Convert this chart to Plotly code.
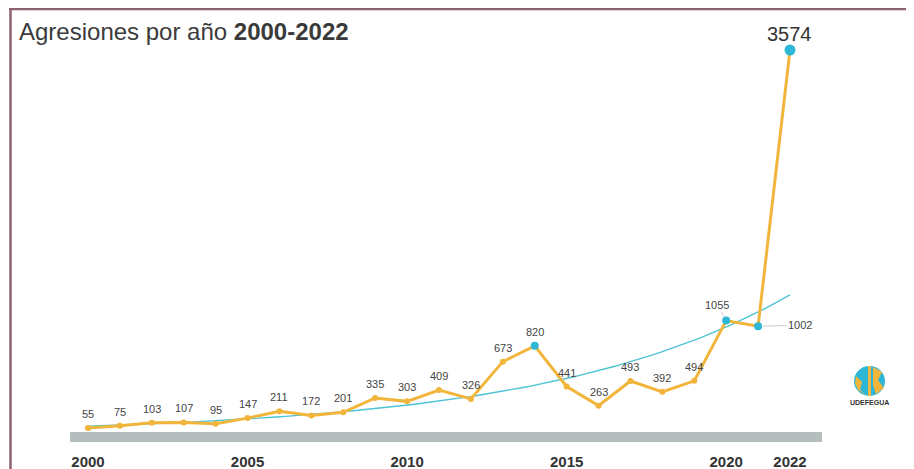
import numpy as np
import plotly.graph_objects as go

years = list(range(2000, 2023))
values = [55, 75, 103, 107, 95, 147, 211, 172, 201, 335, 303, 409, 326,
          673, 820, 441, 263, 493, 392, 494, 1055, 1002, 3574]
highlight_years = [2014, 2020, 2021]
tick_years = [2000, 2005, 2010, 2015, 2020, 2022]
title_a = "Agresiones por año"
title_b = "2000-2022"

YELLOW = "#F2B53C"
CYAN = "#2DB6D6"
TREND = "#4CC3D3"

# exponential trend line (least squares fit on log values)
b, a = np.polyfit(np.array(years) - 2000, np.log(values), 1)
tx = np.linspace(2000, 2022, 120)
ty = np.exp(a + b * (tx - 2000))

fig = go.Figure()
fig.add_trace(go.Scatter(x=tx, y=ty, mode="lines",
                         line=dict(color=TREND, width=1.4), hoverinfo="skip"))
fig.add_trace(go.Scatter(x=years, y=values, mode="lines+markers",
                         line=dict(color=YELLOW, width=3),
                         marker=dict(color=YELLOW, size=6)))
hv = [values[years.index(y)] for y in highlight_years]
fig.add_trace(go.Scatter(x=highlight_years, y=hv, mode="markers",
                         marker=dict(color=CYAN, size=8)))
fig.add_trace(go.Scatter(x=[years[-1]], y=[values[-1]], mode="markers",
                         marker=dict(color=CYAN, size=11)))

LBL = dict(size=11, color="#444444", family="Liberation Sans")
annotations = []
for yr, v in zip(years, values):
    if yr == 2022:
        annotations.append(dict(x=yr, y=v, text=str(v), showarrow=False, yshift=16,
                                font=dict(size=20, color="#333333", family="Liberation Sans")))
    elif yr == 2020:
        annotations.append(dict(x=yr, y=v, text=str(v), showarrow=True, ax=-9, ay=-16,
                                arrowhead=0, arrowwidth=0.8, arrowcolor="#BBBBBB", standoff=4,
                                font=LBL))
    elif yr == 2021:
        annotations.append(dict(x=yr, y=v, text=str(v), showarrow=True, ax=42, ay=-1,
                                arrowhead=0, arrowwidth=0.8, arrowcolor="#BBBBBB", standoff=5,
                                font=LBL))
    else:
        annotations.append(dict(x=yr, y=v, text=str(v), showarrow=False, yshift=14, font=LBL))

# The page shows the figure 8px right/down of the window's corner (body margin),
# so positions below are given in window pixels and the figure is 8px smaller.
OFF = 8
FW, FH = 914 - OFF, 469 - OFF
L, R, T, B = 70, 822, 30, 442          # plot area in window pixels
W, H = R - L, B - T

def px(x):
    return (x - L) / W

def py(y):
    return (B - y) / H

# logo text
annotations.append(dict(xref="paper", yref="paper", x=px(869), y=py(402), xanchor="center",
                        yanchor="middle", text="<b>UDEFEGUA</b>", showarrow=False,
                        font=dict(size=7, color="#333333", family="Liberation Sans")))

# title
annotations.append(dict(xref="paper", yref="paper", x=px(17), y=py(31), xanchor="left",
                        yanchor="middle", text=f"{title_a} <b>{title_b}</b>", showarrow=False,
                        font=dict(size=24, color="#3A3A3A", family="Liberation Sans")))

shapes = [
    # gray base bar
    dict(type="rect", xref="paper", yref="paper", x0=0, x1=1, y0=0, y1=py(432),
         fillcolor="#B5BDBD", line=dict(width=0), layer="below"),
    # frame
    dict(type="line", xref="paper", yref="paper", x0=px(9), x1=px(920), y0=py(9), y1=py(9),
         line=dict(color="#8C6171", width=2.5)),
    dict(type="line", xref="paper", yref="paper", x0=px(10.5), x1=px(10.5), y0=py(8), y1=py(475),
         line=dict(color="#8C6171", width=2.5)),
    # logo circle
    dict(type="circle", xref="paper", yref="paper", x0=px(854), x1=px(885), y0=py(396), y1=py(366),
         fillcolor=CYAN, line=dict(width=0)),
]

def path(pts):
    return "M " + " L ".join(f"{px(x):.4f},{py(y):.4f}" for x, y in pts) + " Z"

shapes += [
    dict(type="path", xref="paper", yref="paper",
         path=path([(856, 376), (862, 382), (860, 390), (866, 395), (858, 390), (855, 383)]),
         fillcolor=YELLOW, line=dict(width=0)),
    dict(type="path", xref="paper", yref="paper",
         path=path([(868, 366), (871, 366), (871, 396), (868, 396)]),
         fillcolor=YELLOW, line=dict(width=0)),
    dict(type="path", xref="paper", yref="paper",
         path=path([(873, 367), (882, 372), (878, 380), (884, 388), (876, 394), (873, 385)]),
         fillcolor=YELLOW, line=dict(width=0)),
]

fig.update_layout(
    width=FW, height=FH,
    margin=dict(l=L - OFF, r=FW - (R - OFF), t=T - OFF, b=FH - (B - OFF)),
    paper_bgcolor="white", plot_bgcolor="white",
    showlegend=False,
    annotations=annotations,
    shapes=shapes,
    xaxis=dict(range=[2000 - 18 / 31.9, 2022 + 32 / 31.9], tickvals=tick_years,
               ticktext=[f"<b>{t}</b>" for t in tick_years],
               showgrid=False, zeroline=False, showline=False, automargin=False,
               ticks="outside", ticklen=6, tickcolor="rgba(0,0,0,0)",
               tickfont=dict(size=15, color="#333333", family="Liberation Sans")),
    yaxis=dict(range=[55 - 14 / 0.1074, 55 + 398 / 0.1074], visible=False,
               showgrid=False, zeroline=False, automargin=False),
)

fig.write_html("out.html")
